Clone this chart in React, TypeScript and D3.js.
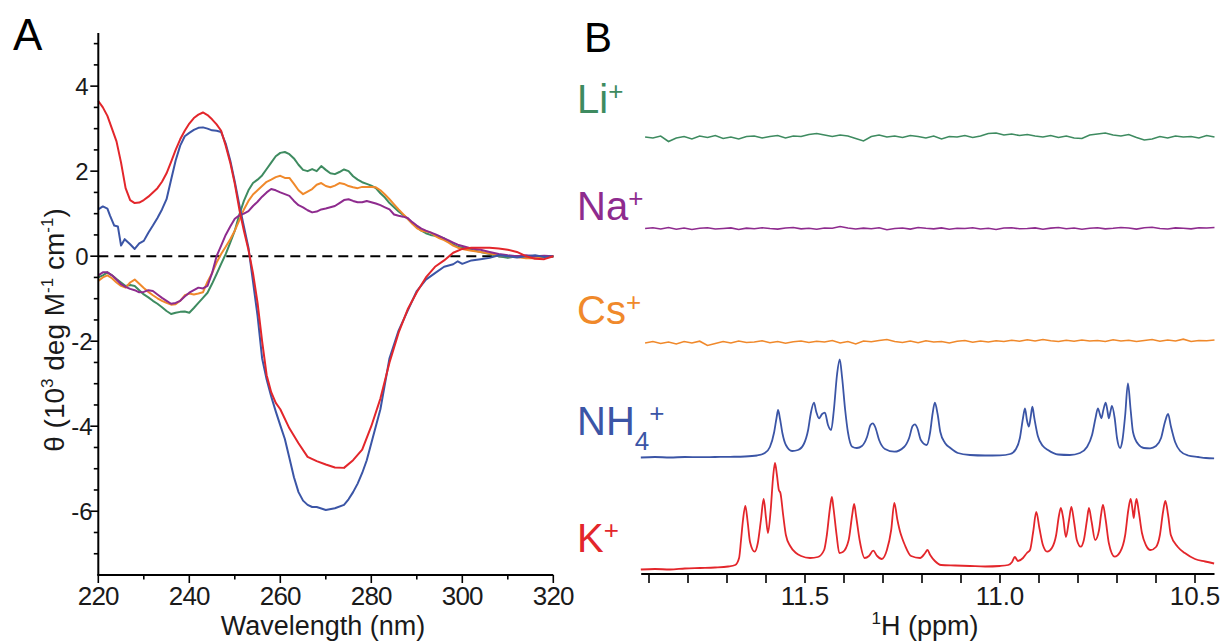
import React from 'react';
import * as d3 from 'd3';

// ---------- Panel A: CD spectra, [wavelength (nm), theta (10^3 deg M^-1 cm^-1)] ----------
const cdLi: [number, number][] = [
  [220,-0.5],[221,-0.45],[222,-0.38],[223,-0.45],[224,-0.54],[225,-0.62],[226,-0.7],[227,-0.68],[228,-0.7],[229,-0.8],
  [230,-0.9],[231,-0.97],[232,-1.05],[233,-1.12],[234,-1.2],[235,-1.29],[236,-1.36],[237,-1.33],[238,-1.31],[239,-1.3],
  [240,-1.33],[241,-1.22],[242,-1.1],[243,-0.98],[244,-0.86],[245,-0.65],[246,-0.42],[247,-0.18],[248,0.05],[249,0.32],
  [250,0.6],[251,0.98],[252,1.3],[253,1.55],[254,1.72],[255,1.8],[256,1.9],[257,2.05],[258,2.2],[259,2.35],
  [260,2.43],[261,2.45],[262,2.4],[263,2.3],[264,2.15],[265,2.03],[266,2.0],[267,2.05],[268,2.0],[269,2.12],
  [270,2.03],[271,1.95],[272,1.93],[273,1.98],[274,2.04],[275,2.0],[276,1.88],[277,1.8],[278,1.74],[279,1.7],
  [280,1.66],[281,1.6],[282,1.48],[283,1.38],[284,1.25],[285,1.15],[286,1.05],[287,0.97],[288,0.88],[289,0.78],
  [290,0.68],[291,0.6],[292,0.54],[293,0.5],[294,0.48],[295,0.45],[296,0.42],[297,0.35],[298,0.28],[299,0.22],
  [300,0.2],[302,0.15],[304,0.1],[306,0.05],[308,0.0],[310,-0.04],[312,0.0],[314,-0.02],[316,0.0],[318,-0.02],[320,0.0],
];

const cdNa: [number, number][] = [
  [220,-0.45],[221,-0.38],[222,-0.38],[223,-0.45],[224,-0.55],[225,-0.66],[226,-0.72],[227,-0.77],[228,-0.8],[229,-0.85],
  [230,-0.84],[231,-0.8],[232,-0.82],[233,-0.9],[234,-0.98],[235,-1.05],[236,-1.12],[237,-1.1],[238,-1.05],[239,-0.95],
  [240,-0.86],[241,-0.8],[242,-0.74],[243,-0.76],[244,-0.7],[245,-0.4],[246,0.0],[247,0.25],[248,0.5],[249,0.7],
  [250,0.88],[251,0.96],[252,1.0],[253,1.06],[254,1.18],[255,1.28],[256,1.4],[257,1.5],[258,1.58],[259,1.55],
  [260,1.5],[261,1.46],[262,1.42],[263,1.3],[264,1.2],[265,1.15],[266,1.08],[267,1.03],[268,1.05],[269,1.1],
  [270,1.12],[271,1.15],[272,1.18],[273,1.25],[274,1.32],[275,1.34],[276,1.3],[277,1.27],[278,1.27],[279,1.3],
  [280,1.27],[281,1.24],[282,1.2],[283,1.15],[284,1.1],[285,0.98],[286,0.95],[287,0.93],[288,0.9],[289,0.8],
  [290,0.72],[291,0.65],[292,0.6],[293,0.56],[294,0.52],[295,0.47],[296,0.42],[297,0.37],[298,0.32],[299,0.27],
  [300,0.24],[302,0.18],[304,0.15],[306,0.1],[308,0.05],[310,0.02],[312,0.0],[314,0.02],[316,0.0],[318,0.01],[320,0.0],
];

const cdCs: [number, number][] = [
  [220,-0.58],[221,-0.5],[222,-0.45],[223,-0.52],[224,-0.62],[225,-0.7],[226,-0.74],[227,-0.62],[228,-0.55],[229,-0.65],
  [230,-0.75],[231,-0.84],[232,-0.92],[233,-0.99],[234,-1.05],[235,-1.1],[236,-1.14],[237,-1.13],[238,-1.05],[239,-0.92],
  [240,-0.88],[241,-0.9],[242,-0.88],[243,-0.85],[244,-0.6],[245,-0.4],[246,-0.15],[247,0.05],[248,0.22],[249,0.4],
  [250,0.6],[251,0.85],[252,1.1],[253,1.3],[254,1.45],[255,1.55],[256,1.65],[257,1.75],[258,1.8],[259,1.86],
  [260,1.89],[261,1.84],[262,1.84],[263,1.7],[264,1.55],[265,1.46],[266,1.52],[267,1.58],[268,1.68],[269,1.72],
  [270,1.65],[271,1.62],[272,1.66],[273,1.72],[274,1.7],[275,1.65],[276,1.62],[277,1.6],[278,1.63],[279,1.63],
  [280,1.63],[281,1.62],[282,1.55],[283,1.45],[284,1.34],[285,1.22],[286,1.1],[287,0.99],[288,0.88],[289,0.76],
  [290,0.66],[291,0.6],[292,0.58],[293,0.56],[294,0.48],[295,0.42],[296,0.38],[297,0.32],[298,0.25],[299,0.2],
  [300,0.17],[302,0.13],[304,0.1],[306,0.06],[308,0.02],[310,0.0],[312,-0.02],[314,-0.05],[316,-0.05],[318,-0.03],[320,0.0],
];

const cdNH4: [number, number][] = [
  [220,1.1],[221,1.17],[222,1.12],[222.6,0.95],[223.5,0.72],[224.3,0.7],[225,0.25],[225.8,0.4],[227,0.28],[228,0.17],
  [229,0.3],[230,0.36],[231,0.55],[232,0.72],[233,0.9],[234,1.1],[235,1.34],[236,1.8],[237,2.25],[238,2.6],
  [239,2.82],[240,2.9],[241,2.97],[242,3.02],[243,3.03],[244,3.0],[245,2.96],[246,2.95],[247,2.92],[248,2.65],
  [249,2.25],[250,1.75],[251,1.2],[252,0.7],[253,0.2],[254,-0.6],[255,-1.4],[256,-2.4],[257,-2.9],[258,-3.3],
  [259,-3.65],[260,-3.98],[261,-4.3],[262,-4.75],[263,-5.2],[264,-5.55],[265,-5.75],[266,-5.85],[267,-5.9],[268,-5.9],
  [270,-5.97],[272,-5.93],[274,-5.85],[275,-5.72],[276,-5.55],[277,-5.35],[278,-5.1],[279,-4.8],[280,-4.4],[282,-3.6],
  [284,-2.4],[286,-1.75],[288,-1.28],[290,-0.82],[292,-0.55],[294,-0.4],[296,-0.25],[298,-0.19],[299,-0.12],[300,-0.18],
  [302,-0.1],[304,-0.07],[306,-0.04],[308,0.02],[310,0.0],[312,-0.03],[314,0.0],[316,0.02],[318,-0.02],[320,0.0],
];

const cdK: [number, number][] = [
  [220,3.65],[221,3.5],[222,3.3],[223,3.0],[224,2.7],[225,2.2],[226,1.6],[227,1.32],[228,1.25],[229,1.26],
  [230,1.32],[231,1.4],[232,1.5],[233,1.6],[234,1.75],[235,1.95],[236,2.22],[237,2.5],[238,2.75],[239,2.95],
  [240,3.12],[241,3.25],[242,3.33],[243,3.38],[244,3.32],[245,3.22],[246,3.1],[247,2.95],[248,2.6],[249,2.2],
  [250,1.7],[251,1.1],[252,0.6],[253,0.15],[254,-0.4],[255,-1.1],[256,-2.0],[257,-2.8],[258,-3.2],[259,-3.45],
  [260,-3.6],[262,-4.05],[264,-4.4],[266,-4.72],[268,-4.82],[270,-4.9],[272,-4.97],[274,-4.98],[276,-4.8],[278,-4.55],
  [280,-4.0],[282,-3.35],[284,-2.5],[286,-1.8],[288,-1.25],[290,-0.85],[292,-0.5],[294,-0.25],[296,-0.1],[298,0.08],
  [300,0.17],[302,0.2],[304,0.2],[306,0.2],[308,0.18],[310,0.15],[312,0.1],[314,0.0],[316,-0.06],[318,-0.07],[320,0.0],
];

const cdXTicks = [220, 240, 260, 280, 300, 320];
const cdYTicks = [-6, -4, -2, 0, 2, 4];

// ---------- Panel B: 1H NMR imino region, [ppm, intensity (a.u.)] ----------
const noisePpm = [
  11.91, 11.89, 11.87, 11.85, 11.83, 11.81, 11.79, 11.77, 11.75, 11.73,
  11.71, 11.69, 11.67, 11.65, 11.63, 11.61, 11.59, 11.57, 11.55, 11.53,
  11.51, 11.49, 11.47, 11.45, 11.43, 11.41, 11.39, 11.37, 11.35, 11.33,
  11.31, 11.29, 11.27, 11.25, 11.23, 11.21, 11.19, 11.17, 11.15, 11.13,
  11.11, 11.09, 11.07, 11.05, 11.03, 11.01, 10.99, 10.97, 10.95, 10.93,
  10.91, 10.89, 10.87, 10.85, 10.83, 10.81, 10.79, 10.77, 10.75, 10.73,
  10.71, 10.69, 10.67, 10.65, 10.63, 10.61, 10.59, 10.57, 10.55, 10.53,
  10.51, 10.49, 10.47, 10.45,
];

const nmrLi = [
  0.0, -0.1, 0.1, -0.45, -0.1, 0.05, -0.2, 0.1, -0.05, 0.15,
  -0.15, 0.0, -0.2, 0.05, 0.1, -0.1, 0.05, 0.15, -0.1, 0.1,
  0.05, 0.25, 0.35, 0.2, 0.05, 0.2, 0.1, -0.15, -0.4, 0.05,
  0.2, 0.0, 0.1, -0.05, 0.15, 0.05, -0.1, 0.1, -0.2, 0.05,
  0.0, 0.15, -0.05, 0.1, 0.35, 0.4, 0.2, 0.3, 0.15, 0.25,
  0.1, 0.0, 0.15, -0.05, 0.1, -0.1, -0.15, 0.2, 0.3, 0.4,
  0.2, 0.1, 0.25, -0.05, -0.3, -0.2, 0.05, -0.1, 0.1, 0.0,
  0.05, -0.1, 0.15, 0.0,
];

const nmrNa = [
  0.0, 0.08, -0.05, 0.1, -0.08, 0.05, -0.1, 0.02, 0.08, -0.05,
  0.0, 0.06, -0.1, 0.04, -0.03, 0.08, 0.0, -0.06, 0.05, 0.1,
  -0.04, 0.03, -0.08, 0.05, 0.02, 0.2, 0.05, -0.05, 0.04, -0.02,
  0.08, -0.12, 0.0, 0.05, -0.06, 0.1, 0.02, -0.04, 0.06, -0.08,
  0.03, 0.0, 0.07, -0.05, 0.02, -0.1, 0.05, 0.08, -0.03, 0.0,
  0.06, -0.07, 0.04, 0.1, -0.02, 0.05, -0.08, 0.03, 0.07, -0.04,
  0.02, 0.1, 0.05, -0.06, 0.08, 0.12, 0.0, -0.05, 0.06, 0.02,
  -0.04, 0.08, 0.05, 0.1,
];

const nmrCs = [
  -0.1, 0.05, -0.15, 0.0, -0.2, 0.05, -0.1, 0.08, -0.35, -0.15,
  0.05, -0.1, 0.1, -0.05, 0.0, 0.12, -0.08, 0.05, -0.12, 0.02,
  0.1, -0.05, 0.08, 0.0, 0.15, -0.1, 0.05, -0.2, 0.1, 0.02,
  0.15, 0.25, 0.05, -0.05, 0.1, -0.08, 0.12, 0.0, 0.05, -0.1,
  0.08, 0.15, -0.02, 0.1, 0.0, 0.12, 0.05, 0.18, 0.08, 0.22,
  0.1, 0.25, 0.12, 0.05, 0.18, 0.08, 0.2, 0.1, 0.15, 0.05,
  0.22, 0.1, 0.18, 0.05, 0.15, 0.25, 0.08, 0.2, 0.1, 0.28,
  0.05, 0.15, 0.12, 0.2,
];

const nmrNH4: [number, number][] = [
  [11.921,0.05],[11.885,0.1],[11.846,0.05],[11.808,0.1],[11.769,0.08],[11.731,0.1],[11.692,0.12],[11.654,0.15],[11.623,0.25],[11.603,0.5],
  [11.590,1.1],[11.579,2.6],[11.573,4.0],[11.569,4.8],[11.564,3.9],[11.558,2.5],[11.549,1.3],[11.533,0.7],[11.518,0.8],[11.503,1.4],
  [11.492,2.8],[11.485,4.5],[11.477,5.53],[11.471,4.6],[11.464,3.97],[11.456,4.4],[11.449,4.53],[11.441,3.3],[11.433,2.8],[11.426,4.8],
  [11.418,8.3],[11.411,9.87],[11.405,8.1],[11.397,4.8],[11.390,2.6],[11.379,1.13],[11.367,1.0],[11.354,1.2],[11.341,2.1],[11.332,3.3],
  [11.326,3.47],[11.320,3.1],[11.310,1.8],[11.295,0.9],[11.271,0.63],[11.246,1.1],[11.233,2.0],[11.224,3.2],[11.218,3.37],[11.212,3.0],
  [11.203,1.8],[11.188,1.3],[11.179,2.6],[11.173,4.4],[11.167,5.53],[11.160,4.4],[11.153,2.6],[11.141,1.5],[11.128,1.03],[11.108,0.5],
  [11.077,0.3],[11.038,0.25],[11.000,0.27],[10.974,0.4],[10.959,0.9],[10.949,2.0],[10.941,4.0],[10.936,4.97],[10.931,3.8],[10.926,3.13],
  [10.921,4.2],[10.917,5.13],[10.912,4.0],[10.903,2.2],[10.890,1.2],[10.877,0.8],[10.851,0.35],[10.821,0.3],[10.795,0.5],[10.777,1.1],
  [10.764,2.3],[10.755,4.0],[10.749,4.97],[10.744,4.4],[10.740,3.97],[10.735,4.8],[10.729,5.53],[10.724,4.6],[10.721,3.97],[10.717,4.6],
  [10.713,5.2],[10.706,4.0],[10.700,2.0],[10.692,1.0],[10.686,1.8],[10.679,4.3],[10.672,7.47],[10.665,4.8],[10.659,2.6],[10.646,1.4],
  [10.631,1.0],[10.615,0.97],[10.600,1.2],[10.587,2.0],[10.577,3.6],[10.569,4.4],[10.562,3.2],[10.551,1.6],[10.538,0.7],[10.518,0.25],
  [10.492,0.1],[10.472,0.0],[10.451,-0.03],
];

const nmrK: [number, number][] = [
  [11.921,-0.05],[11.885,0.0],[11.846,-0.05],[11.808,0.05],[11.769,0.1],[11.731,0.15],[11.697,0.25],[11.679,0.4],[11.669,1.1],[11.664,2.9],
  [11.659,4.9],[11.653,6.3],[11.647,4.7],[11.641,2.7],[11.629,1.73],[11.621,2.6],[11.613,4.9],[11.606,7.0],[11.600,5.1],[11.595,3.6],
  [11.588,5.9],[11.582,9.1],[11.577,10.6],[11.572,9.4],[11.567,7.9],[11.563,7.6],[11.556,5.4],[11.549,3.4],[11.538,2.3],[11.523,1.6],
  [11.510,1.3],[11.487,1.1],[11.467,1.2],[11.451,1.9],[11.444,3.4],[11.436,6.1],[11.431,7.2],[11.427,6.1],[11.419,3.4],[11.412,1.6],
  [11.403,1.7],[11.388,2.9],[11.379,5.4],[11.374,6.5],[11.369,5.3],[11.360,2.9],[11.347,1.1],[11.336,1.3],[11.325,1.83],[11.315,1.3],
  [11.303,1.0],[11.290,1.9],[11.279,3.9],[11.271,6.6],[11.263,4.9],[11.256,3.7],[11.251,3.1],[11.244,2.4],[11.228,1.3],[11.205,1.1],
  [11.192,1.6],[11.186,1.9],[11.179,1.4],[11.167,0.8],[11.151,0.4],[11.115,0.35],[11.077,0.3],[11.038,0.25],[11.000,0.3],[10.979,0.4],
  [10.969,0.7],[10.962,1.2],[10.954,0.8],[10.941,1.1],[10.931,1.6],[10.923,1.9],[10.915,3.7],[10.907,5.7],[10.899,4.1],[10.890,2.4],
  [10.879,1.73],[10.867,2.1],[10.856,3.4],[10.849,5.3],[10.844,6.1],[10.838,5.1],[10.831,3.2],[10.823,4.9],[10.817,6.2],[10.810,4.7],
  [10.803,2.9],[10.793,2.23],[10.785,2.9],[10.777,4.9],[10.772,6.1],[10.765,4.7],[10.756,2.9],[10.746,3.9],[10.741,5.4],[10.736,6.4],
  [10.729,4.9],[10.721,2.6],[10.706,1.23],[10.692,1.7],[10.679,3.4],[10.671,5.9],[10.665,7.0],[10.660,5.9],[10.657,5.1],[10.654,6.1],
  [10.650,7.0],[10.644,5.7],[10.636,3.6],[10.626,2.4],[10.614,1.9],[10.600,2.2],[10.590,3.4],[10.582,5.7],[10.576,6.8],[10.569,5.4],
  [10.562,3.4],[10.544,2.2],[10.526,1.6],[10.500,1.0],[10.474,0.75],[10.451,0.55],
];

const nmrMajorTicks = [11.5, 11.0, 10.5];
const nmrMinorTicks = [11.9, 11.8, 11.7, 11.6, 11.5, 11.4, 11.3, 11.2, 11.1, 11.0, 10.9, 10.8, 10.7, 10.6, 10.5];

const COLORS = {
  li: '#3e8b60',
  na: '#8e2b8e',
  cs: '#f0892b',
  nh4: '#3b55a6',
  k: '#e3262b',
};

const FONT = '"Liberation Sans", Arial, Helvetica, sans-serif';

export default function App() {
  // Panel A scales
  const xA = d3.scaleLinear().domain([220, 320]).range([98.3, 553.3]);
  const yA = d3.scaleLinear().domain([-7.5, 5.25]).range([575, 33]);
  const cdLine = d3
    .line<[number, number]>()
    .x((d) => xA(d[0]))
    .y((d) => yA(d[1]))
    .curve(d3.curveLinear);

  const yMinor = d3.range(-7, 5.01, 0.5);
  const xMinor = d3.range(220, 321, 10);

  // Panel B scales
  const xB = d3.scaleLinear().domain([11.92, 10.45]).range([641.2, 1214.5]);
  const iB = d3.scaleLinear().domain([0, 1]).range([0, -10]);
  const peakLine = (y0: number) =>
    d3
      .line<[number, number]>()
      .x((d) => xB(d[0]))
      .y((d) => y0 + iB(d[1]))
      .curve(d3.curveMonotoneX);
  const noiseLine = (vals: number[], y0: number) =>
    d3
      .line<number>()
      .x((_, i) => xB(noisePpm[i]))
      .y((v) => y0 + iB(v))
      .curve(d3.curveLinear)(vals) as string;

  const axisY = 574;

  const cdSeries: { data: [number, number][]; color: string }[] = [
    { data: cdLi, color: COLORS.li },
    { data: cdCs, color: COLORS.cs },
    { data: cdNa, color: COLORS.na },
    { data: cdNH4, color: COLORS.nh4 },
    { data: cdK, color: COLORS.k },
  ];

  return (
    <svg
      width={1223}
      height={642}
      style={{ position: 'absolute', left: 0, top: 0, background: '#fff' }}
      fontFamily={FONT}
    >
      <rect x={0} y={0} width={1223} height={642} fill="#fff" />

      {/* ---------- Panel A ---------- */}
      <text x={13} y={50} fontSize={44} fill="#000">A</text>

      {/* zero line */}
      <line
        x1={xA(220)}
        x2={xA(320)}
        y1={yA(0)}
        y2={yA(0)}
        stroke="#000"
        strokeWidth={2}
        strokeDasharray="10,6"
      />

      {cdSeries.map((s, i) => (
        <path key={i} d={cdLine(s.data) as string} fill="none" stroke={s.color} strokeWidth={2} strokeLinejoin="round" />
      ))}

      {/* y axis */}
      <line x1={xA(220)} x2={xA(220)} y1={yA(5.25)} y2={yA(-7.5)} stroke="#000" strokeWidth={2} />
      {yMinor.map((v) => {
        const major = Math.abs(v % 2) < 1e-6;
        return (
          <line
            key={'ym' + v}
            x1={xA(220)}
            x2={xA(220) - (major ? 8 : 4.5)}
            y1={yA(v)}
            y2={yA(v)}
            stroke="#000"
            strokeWidth={1.6}
          />
        );
      })}
      {cdYTicks.map((v) => (
        <text key={'yl' + v} x={82} y={yA(v)} dy="0.36em" fontSize={24} textAnchor="middle" fill="#1a1a1a">
          {v}
        </text>
      ))}

      {/* x axis */}
      <line x1={xA(220) - 1} x2={xA(320)} y1={575} y2={575} stroke="#000" strokeWidth={2} />
      {xMinor.map((v) => {
        const major = (v - 220) % 20 === 0;
        return (
          <line
            key={'xm' + v}
            x1={xA(v)}
            x2={xA(v)}
            y1={575}
            y2={575 + (major ? 8 : 4.5)}
            stroke="#000"
            strokeWidth={1.6}
          />
        );
      })}
      {cdXTicks.map((v) => (
        <text key={'xl' + v} x={xA(v)} y={605} fontSize={26} letterSpacing={-0.8} textAnchor="middle" fill="#1a1a1a">
          {v}
        </text>
      ))}
      <text x={323} y={635} fontSize={27} textAnchor="middle" fill="#1a1a1a">
        Wavelength (nm)
      </text>
      <text transform="translate(64,330) rotate(-90)" fontSize={28} textAnchor="middle" fill="#1a1a1a">
        θ (10
        <tspan fontSize={17} dy={-11}>3</tspan>
        <tspan dy={11}> deg M</tspan>
        <tspan fontSize={17} dy={-11}>-1</tspan>
        <tspan dy={11}> cm</tspan>
        <tspan fontSize={17} dy={-11}>-1</tspan>
        <tspan dy={11}>)</tspan>
      </text>

      {/* ---------- Panel B ---------- */}
      <text x={584} y={52} fontSize={42} fill="#000">B</text>

      <path d={noiseLine(nmrLi, 137)} fill="none" stroke={COLORS.li} strokeWidth={1.6} />
      <path d={noiseLine(nmrNa, 228.5)} fill="none" stroke={COLORS.na} strokeWidth={1.6} />
      <path d={noiseLine(nmrCs, 342)} fill="none" stroke={COLORS.cs} strokeWidth={1.6} />
      <path d={peakLine(458)(nmrNH4) as string} fill="none" stroke={COLORS.nh4} strokeWidth={1.8} />
      <path d={peakLine(569)(nmrK) as string} fill="none" stroke={COLORS.k} strokeWidth={1.8} />

      <g fontSize={40}>
        <text x={577} y={113} fill={COLORS.li}>
          Li<tspan fontSize={26} dy={-13}>+</tspan>
        </text>
        <text x={577} y={220} fill={COLORS.na}>
          Na<tspan fontSize={26} dy={-13}>+</tspan>
        </text>
        <text x={577} y={324} fill={COLORS.cs}>
          Cs<tspan fontSize={26} dy={-13}>+</tspan>
        </text>
        <text x={577} y={435} fill={COLORS.nh4}>
          NH<tspan fontSize={26} dy={15}>4</tspan>
          <tspan fontSize={26} dy={-28}>+</tspan>
        </text>
        <text x={577} y={552} fill={COLORS.k}>
          K<tspan fontSize={26} dy={-13}>+</tspan>
        </text>
      </g>

      {/* ppm axis */}
      <line x1={xB(11.92)} x2={xB(10.45)} y1={axisY} y2={axisY} stroke="#000" strokeWidth={2} />
      {nmrMinorTicks.map((v) => (
        <line key={'bt' + v} x1={xB(v)} x2={xB(v)} y1={axisY} y2={axisY + 9} stroke="#000" strokeWidth={1.6} />
      ))}
      {nmrMajorTicks.map((v) => (
        <text key={'bl' + v} x={xB(v)} y={605} fontSize={26} textAnchor="middle" fill="#1a1a1a">
          {d3.format('.1f')(v)}
        </text>
      ))}
      <text x={925} y={635} fontSize={27} textAnchor="middle" fill="#1a1a1a">
        <tspan fontSize={17} dy={-11}>1</tspan>
        <tspan dy={11}>H (ppm)</tspan>
      </text>
    </svg>
  );
}
